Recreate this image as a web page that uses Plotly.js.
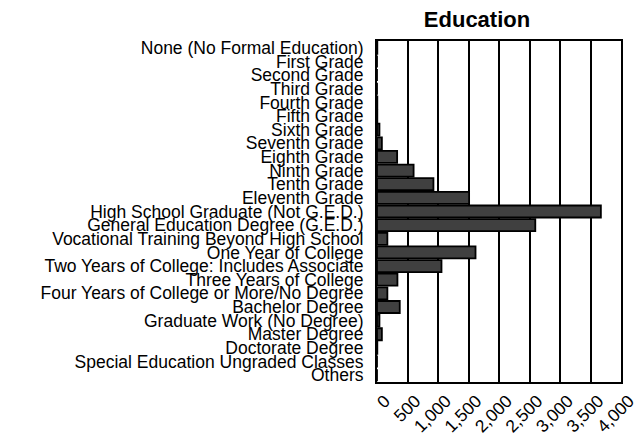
<!DOCTYPE html>
<html><head><meta charset="utf-8">
<script src="https://cdn.plot.ly/plotly-3.0.1.min.js"></script>
<style>html,body{margin:0;padding:0;background:#fff}#chart{width:642px;height:437px}</style>
</head><body><div id="chart"></div>
<script>
const categories = ["None (No Formal Education)","First Grade","Second Grade","Third Grade","Fourth Grade","Fifth Grade","Sixth Grade","Seventh Grade","Eighth Grade","Ninth Grade","Tenth Grade","Eleventh Grade","High School Graduate (Not G.E.D.)","General Education Degree (G.E.D.)","Vocational Training Beyond High School","One Year of College","Two Years of College: Includes Associate","Three Years of College","Four Years of College or More/No Degree","Bachelor Degree","Graduate Work (No Degree)","Master Degree","Doctorate Degree","Special Education Ungraded Classes","Others"];
const counts = [5,0,0,0,5,5,40,80,330,600,925,1510,3670,2595,170,1615,1057,335,170,373,40,80,5,0,0];
const tickVals = [0,500,1000,1500,2000,2500,3000,3500,4000];
const tickText = ["0","500","1,000","1,500","2,000","2,500","3,000","3,500","4,000"];

Plotly.newPlot('chart', [{
  type:'bar', orientation:'h', y:categories, x:counts,
  marker:{color:'#404040', line:{color:'#000', width:1.8}},
  hoverinfo:'none'
}], {
  width:642, height:437,
  margin:{l:377, r:21, t:41, b:55},
  paper_bgcolor:'#fff', plot_bgcolor:'#fff',
  font:{family:'Liberation Sans, Arial, sans-serif', size:17.5, color:'#000'},
  title:{text:'<b>Education</b>', x:0.743, xanchor:'center', y:0.9565, yanchor:'middle', font:{size:22, color:'#000'}},
  bargap:0.12,
  showlegend:false,
  xaxis:{range:[0,4000], tickmode:'array', tickvals:tickVals, ticktext:tickText, tickangle:-45,
    ticklabelshift:8,
    showgrid:true, gridcolor:'#000', gridwidth:2, showline:true, linecolor:'#000', linewidth:2, mirror:true,
    ticks:'', zeroline:false, fixedrange:true},
  yaxis:{autorange:'reversed', type:'category', tickmode:'array', tickvals:categories, ticktext:categories,
    showline:true, linecolor:'#000', linewidth:2, mirror:true,
    ticks:'', ticklabelstandoff:8, showgrid:false, zeroline:false, fixedrange:true}
}, {displayModeBar:false, staticPlot:true});
</script></body></html>
